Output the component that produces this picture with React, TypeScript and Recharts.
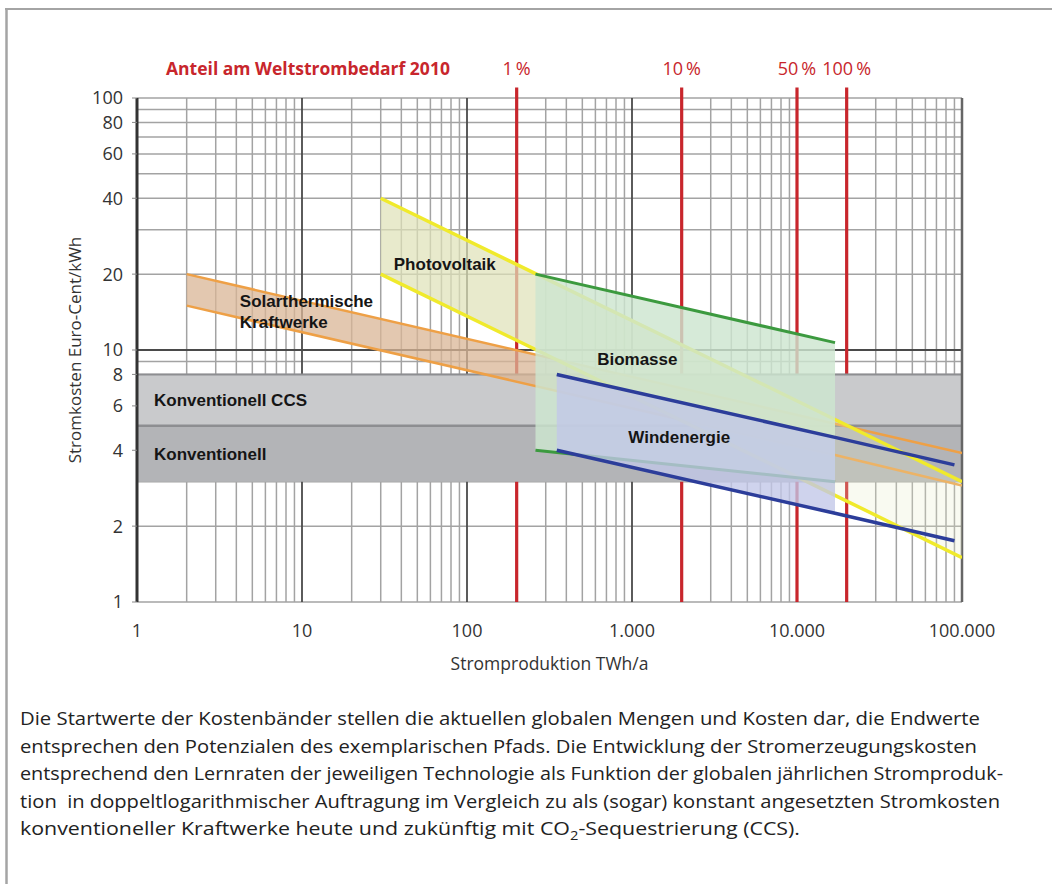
import React from "react";
import {
  ComposedChart,
  Area,
  XAxis,
  YAxis,
  CartesianGrid,
  ReferenceLine,
  ReferenceArea,
  ReferenceDot,
} from "recharts";

// Kostenbänder: Stromproduktion TWh/a (x) mit Kosten Euro-Cent/kWh (unten / oben)
const solarX = [2, 17000, 100000];
const solarLow = [15, 3.83, 2.9];
const solarHigh = [20, 5.1, 3.9];

const pvX = [30, 17000, 100000];
const pvLow = [20, 2.65, 1.5];
const pvHigh = [40, 5.3, 3];

const bioX = [260, 17000];
const bioLow = [4, 3];
const bioHigh = [20, 10.7];

const windX = [350, 17000, 90000];
const windLow = [4, 2.25, 1.75];
const windHigh = [8, 4.5, 3.5];

// konventionelle Kraftwerke (konstant)
const convNames = ["Konventionell CCS", "Konventionell"];
const convLow = [5, 3];
const convHigh = [8, 5];

// Anteil am Weltstrombedarf 2010
const shareX = [200, 2000, 10000, 20000];
const shareLabels = ["1\u2009%", "10\u2009%", "50\u2009%", "100\u2009%"];

const xTicks = [1, 10, 100, 1000, 10000, 100000];
const yTicks = [1, 2, 4, 6, 8, 10, 20, 40, 60, 80, 100];

const caption = [
  "Die Startwerte der Kostenbänder stellen die aktuellen globalen Mengen und Kosten dar, die Endwerte",
  "entsprechen den Potenzialen des exemplarischen Pfads. Die Entwicklung der Stromerzeugungskosten",
  "entsprechend den Lernraten der jeweiligen Technologie als Funktion der globalen jährlichen Stromproduk-",
  "tion  in doppeltlogarithmischer Auftragung im Vergleich zu als (sogar) konstant angesetzten Stromkosten",
];
const captionWidths = [960, 957, 983, 980];

const toRows = (xs: number[], lows: number[], highs: number[]) =>
  xs.map((x, i) => ({ x, band: [lows[i], highs[i]] }));

const solarRows = toRows(solarX, solarLow, solarHigh);
const pvRows = toRows(pvX, pvLow, pvHigh);
const bioRows = toRows(bioX, bioLow, bioHigh);
const windRows = toRows(windX, windLow, windHigh);

// log-Raster
const steps = [2, 3, 4, 5, 6, 7, 8, 9];
const minorX = [1, 10, 100, 1000, 10000].flatMap((d) => steps.map((s) => s * d));
const minorY = [1, 100].concat([1, 10].flatMap((d) => steps.map((s) => s * d)));
const majorX = [10, 100, 1000, 10000];

const RED = "#c8262c";
const FONT = "'Open Sans', sans-serif";
const LABEL_FONT = "'Liberation Sans', Arial, sans-serif";

const fmt = (v: number) => String(v).replace(/\B(?=(\d{3})+(?!\d))/g, ".");

const bandLabel = (value: string) => ({
  value,
  position: "right" as const,
  offset: 0,
  fill: "#151515",
  fontSize: 17,
  fontWeight: 700,
  fontFamily: LABEL_FONT,
});

const areaBase = {
  dataKey: "band",
  type: "linear" as const,
  dot: false,
  activeDot: false,
  isAnimationActive: false,
};

const App = () => {
  return (
    <div style={{ position: "absolute", left: 0, top: 0, width: 1052, height: 884, background: "#fff", overflow: "hidden" }}>
      <ComposedChart
        width={1052}
        height={700}
        style={{ position: "absolute", left: 0, top: 0 }}
        margin={{ top: 98, right: 90, left: 60, bottom: 32 }}
      >
        <CartesianGrid
          horizontalValues={minorY}
          verticalValues={minorX}
          stroke="#a3a3a3"
          strokeWidth={1.5}
        />
        <XAxis
          type="number"
          dataKey="x"
          scale="log"
          domain={[1, 100000]}
          ticks={xTicks}
          interval={0}
          tickFormatter={fmt}
          allowDataOverflow
          axisLine={false}
          tickLine={false}
          tickSize={0}
          tickMargin={22}
          height={66}
          tick={{ fontSize: 18, fill: "#333", fontFamily: FONT }}
          label={{
            value: "Stromproduktion TWh/a",
            position: "insideBottom",
            offset: -2,
            fontSize: 17.5,
            fill: "#333",
            fontFamily: FONT,
          }}
        />
        <YAxis
          type="number"
          scale="log"
          domain={[1, 100]}
          ticks={yTicks}
          interval={0}
          allowDataOverflow
          axisLine={false}
          tickLine={{ stroke: "#888" }}
          tickSize={5}
          tickMargin={9}
          width={77}
          tick={{ fontSize: 18, fill: "#333", fontFamily: FONT }}
          label={{
            value: "Stromkosten Euro-Cent/kWh",
            angle: -90,
            position: "insideLeft",
            offset: 15,
            style: { textAnchor: "middle" },
            fontSize: 17,
            fill: "#333",
            fontFamily: FONT,
          }}
        />

        {majorX.map((x) => (
          <ReferenceLine key={"mx" + x} x={x} stroke="#4a4a4a" strokeWidth={1.8} zIndex={-90} />
        ))}
        <ReferenceLine y={10} stroke="#4a4a4a" strokeWidth={1.8} zIndex={-90} />

        {shareX.map((x, i) => (
          <ReferenceLine
            key={"share" + x}
            segment={[
              { x, y: 1 },
              { x, y: 110 },
            ]}
            ifOverflow="visible"
            stroke={RED}
            strokeWidth={3.2}
            zIndex={-80}
            label={{
              value: shareLabels[i],
              position: "top",
              offset: 13,
              fill: RED,
              fontSize: 18,
              fontFamily: FONT,
            }}
          />
        ))}

        {convNames.map((name, i) => (
          <ReferenceArea
            key={name}
            y1={convLow[i]}
            y2={convHigh[i]}
            fill={i === 0 ? "#c9cacc" : "#b3b4b7"}
            fillOpacity={1}
            stroke="none"
            zIndex={-70}
            label={{
              value: name,
              position: "insideLeft",
              offset: 17,
              fill: "#151515",
              fontSize: 17,
              fontWeight: 700,
              fontFamily: LABEL_FONT,
            }}
          />
        ))}
        <ReferenceLine y={convHigh[0]} stroke="#8d8e91" strokeWidth={2} zIndex={-60} />
        <ReferenceLine y={convLow[0]} stroke="#8d8e91" strokeWidth={2.5} zIndex={-60} />
        <ReferenceLine x={1} stroke="#333" strokeWidth={3} zIndex={-60} />
        <ReferenceLine x={100000} stroke="#666" strokeWidth={2.5} zIndex={-60} />

        {/* Solarthermie */}
        <Area {...areaBase} data={solarRows.slice(0, 2)} fill="#d9b596" fillOpacity={0.75} stroke="none" zIndex={100} />
        <Area {...areaBase} data={solarRows} fill="none" stroke="#eea046" strokeWidth={2.5} zIndex={100} />
        {/* Photovoltaik */}
        <Area {...areaBase} data={pvRows.slice(0, 2)} fill="#dfe2b8" fillOpacity={0.72} stroke="none" zIndex={101} />
        <Area {...areaBase} data={pvRows.slice(1)} fill="#e9ecc8" fillOpacity={0.25} stroke="none" zIndex={101} />
        <Area {...areaBase} data={pvRows} fill="none" stroke="#f0ea2c" strokeWidth={3.5} zIndex={101} />
        {/* Biomasse */}
        <Area {...areaBase} data={bioRows} fill="#cde5d0" fillOpacity={0.82} stroke="#3c9a3f" strokeWidth={3} zIndex={102} />
        {/* Windenergie */}
        <Area {...areaBase} data={windRows.slice(0, 2)} fill="#c2c6e8" fillOpacity={0.78} stroke="none" zIndex={103} />
        <Area {...areaBase} data={windRows} fill="none" stroke="#2c3d9a" strokeWidth={3.5} zIndex={104} />

        <ReferenceDot x={4.2} y={15.6} r={0} stroke="none" fill="none" zIndex={2000} label={bandLabel("Solarthermische")} />
        <ReferenceDot x={4.2} y={12.9} r={0} stroke="none" fill="none" zIndex={2000} label={bandLabel("Kraftwerke")} />
        <ReferenceDot x={36} y={22} r={0} stroke="none" fill="none" zIndex={2000} label={bandLabel("Photovoltaik")} />
        <ReferenceDot x={615} y={9.25} r={0} stroke="none" fill="none" zIndex={2000} label={bandLabel("Biomasse")} />
        <ReferenceDot x={950} y={4.53} r={0} stroke="none" fill="none" zIndex={2000} label={bandLabel("Windenergie")} />
        <ReferenceDot
          x={1.5}
          y={131}
          r={0}
          stroke="none"
          fill="none"
          ifOverflow="visible"
          zIndex={2000}
          label={{
            value: "Anteil am Weltstrombedarf 2010",
            position: "right",
            offset: 0,
            fill: RED,
            fontSize: 17.5,
            fontWeight: 700,
            fontFamily: FONT,
          }}
        />
      </ComposedChart>

      <svg width={1052} height={884} style={{ position: "absolute", left: 0, top: 0, pointerEvents: "none" }}>
        <line x1={6.5} y1={8} x2={6.5} y2={884} stroke="#a4a4a4" strokeWidth={2.5} />
        <line x1={5} y1={9} x2={1052} y2={9} stroke="#a4a4a4" strokeWidth={2} />
        <g fontFamily={FONT} fontSize={17.5} fill="#222">
          {caption.map((line, i) => (
            <text
              key={i}
              x={20}
              y={725 + i * 27.5}
              textLength={captionWidths[i]}
              lengthAdjust="spacingAndGlyphs"
              style={{ whiteSpace: "pre" }}
            >
              {line}
            </text>
          ))}
          <text x={20} y={725 + 4 * 27.5} textLength={780} lengthAdjust="spacingAndGlyphs">
            konventioneller Kraftwerke heute und zukünftig mit CO
            <tspan fontSize={12} dy={5}>2</tspan>
            <tspan dy={-5}>-Sequestrierung (CCS).</tspan>
          </text>
        </g>
      </svg>
    </div>
  );
};

export default App;
